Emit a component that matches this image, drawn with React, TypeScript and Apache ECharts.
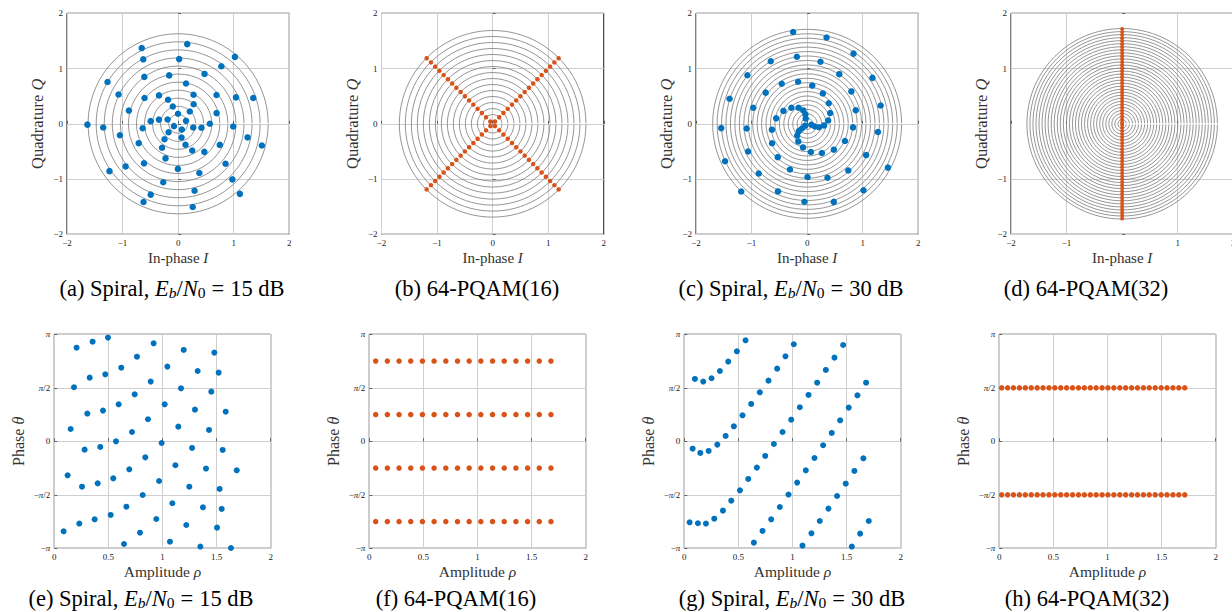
import React, { useEffect, useRef } from "react";
import * as echarts from "echarts";

const BLUE = "#0072BD";
const ORANGE = "#D95319";
const FONT = "'Liberation Serif', 'Times New Roman', serif";

// Spiral, Eb/N0 = 15 dB : amplitude rho and phase theta (in units of pi)
const spiral15Rho = [
  0.206, 0.354, 0.496, 0.918, 1.196, 1.479, 0.764, 1.045, 1.325, 1.519, 0.619, 0.891, 0.182, 0.471, 0.327, 1.171,
  1.451, 0.743, 1.02, 1.3, 1.584, 0.595, 0.45, 0.305, 0.151, 1.146, 1.43, 0.866, 0.718, 0.57, 0.992, 0.425,
  0.28, 1.273, 1.556, 0.841, 1.119, 1.402, 1.686, 0.693, 0.123, 0.968, 0.545, 0.401, 0.256, 1.248, 1.528, 0.817,
  1.091, 1.374, 1.547, 0.666, 0.521, 0.373, 0.231, 0.943, 1.22, 1.504, 0.792, 0.086, 1.069, 0.644, 1.35, 1.633,
];
const spiral15PhasePi = [
  0.875, 0.931, 0.969, 0.916, 0.854, 0.829, 0.791, 0.698, 0.657, 0.642, 0.688, 0.558, 0.505, 0.626, 0.595, 0.495,
  0.464, 0.439, 0.346, 0.296, 0.277, 0.346, 0.287, 0.259, 0.115, 0.137, 0.106, 0.206, 0.087, 0.0, -0.016, -0.053,
  -0.078, -0.062, -0.081, -0.15, -0.224, -0.255, -0.271, -0.262, -0.318, -0.371, -0.346, -0.393, -0.424, -0.424, -0.445, -0.502,
  -0.579, -0.617, -0.632, -0.611, -0.688, -0.729, -0.769, -0.726, -0.782, -0.807, -0.854, -0.841, -0.938, -0.96, -0.984, -0.997,
];

// Spiral, Eb/N0 = 30 dB
const spiral30Rho = [
  0.098, 0.175, 0.252, 0.329, 0.406, 0.486, 0.566,
  0.077, 0.148, 0.225, 0.305, 0.382, 0.458, 0.538, 0.618, 0.698, 0.778, 0.858, 0.935, 1.012,
  0.049, 0.126, 0.2, 0.277, 0.357, 0.434, 0.514, 0.591, 0.671, 0.748, 0.828, 0.908, 0.988, 1.068, 1.148, 1.228, 1.308, 1.388, 1.468,
  0.643, 0.723, 0.803, 0.883, 0.963, 1.043, 1.123, 1.203, 1.283, 1.363, 1.44, 1.52, 1.6, 1.68,
  1.092, 1.175, 1.252, 1.332, 1.412, 1.492, 1.572, 1.655,
  1.548, 1.625, 1.705,
];
const spiral30PhasePi = [
  0.583, 0.558, 0.589, 0.657, 0.745, 0.841, 0.944,
  -0.069, -0.109, -0.09, -0.031, 0.05, 0.14, 0.243, 0.349, 0.458, 0.567, 0.679, 0.794, 0.907,
  -0.757, -0.766, -0.769, -0.723, -0.648, -0.555, -0.458, -0.352, -0.246, -0.137, -0.025, 0.087, 0.202, 0.318, 0.433, 0.548, 0.667, 0.782, 0.9,
  -0.947, -0.838, -0.729, -0.614, -0.498, -0.386, -0.271, -0.156, -0.037, 0.078, 0.196, 0.315, 0.43, 0.548,
  -0.975, -0.86, -0.745, -0.629, -0.511, -0.396, -0.277, -0.159,
  -0.984, -0.863, -0.745,
];

// 64-PQAM(16): 16 amplitudes x 4 phases
const pqam16Amplitudes = [
  0.059, 0.167, 0.275, 0.383, 0.491, 0.599, 0.707, 0.815, 0.923, 1.031, 1.139, 1.247, 1.355, 1.463, 1.571, 1.679,
];
const pqam16PhasesPi = [0.75, 0.25, -0.25, -0.75];

// 64-PQAM(32): 32 amplitudes x 2 phases
const pqam32Amplitudes = [
  0.022, 0.077, 0.131, 0.186, 0.24, 0.295, 0.35, 0.404, 0.459, 0.513, 0.568, 0.622, 0.677, 0.732, 0.786, 0.841,
  0.895, 0.95, 1.004, 1.059, 1.114, 1.168, 1.223, 1.277, 1.332, 1.386, 1.441, 1.496, 1.55, 1.605, 1.659, 1.714,
];
const pqam32PhasesPi = [0.5, -0.5];

// reference rings (amplitude levels) drawn in the I/Q panels
const ringsSpiral15 = [0.17, 0.315, 0.46, 0.605, 0.75, 0.895, 1.04, 1.185, 1.33, 1.475, 1.62];
const ringsSpiral30 = [
  0.1, 0.18, 0.26, 0.34, 0.42, 0.5, 0.58, 0.66, 0.74, 0.82, 0.9, 0.98, 1.06, 1.14, 1.22, 1.3, 1.38, 1.46, 1.54, 1.62, 1.7,
];

const iqTicksFull = [-2, -1, 0, 1, 2];
const iqTicksNoZero = [-2, -1, 1, 2];
const phaseTickLabels: Record<string, string> = {
  "-1": "\u2212{p|\u03c0}",
  "-0.5": "\u2212{p|\u03c0}/2",
  "0": "0",
  "0.5": "{p|\u03c0}/2",
  "1": "{p|\u03c0}",
};

const captions = [
  "(a) Spiral, {it|E}{subi|b}/{it|N}{sub|0}{eq|=}15 dB",
  "(b) 64-PQAM(16)",
  "(c) Spiral, {it|E}{subi|b}/{it|N}{sub|0}{eq|=}30 dB",
  "(d) 64-PQAM(32)",
  "(e) Spiral, {it|E}{subi|b}/{it|N}{sub|0}{eq|=}15 dB",
  "(f) 64-PQAM(16)",
  "(g) Spiral, {it|E}{subi|b}/{it|N}{sub|0}{eq|=}30 dB",
  "(h) 64-PQAM(32)",
];
const captionX = [172, 477, 791, 1086, 141, 456, 792, 1087];
const captionY = [288, 288, 288, 288, 598, 598, 598, 598];

const topLefts = [67, 381.5, 696, 1011];
const bottomLefts = [54.3, 369.3, 684.3, 999.3];

function polarPairs(rho: number[], phasePi: number[]) {
  return rho.map((r, i) => [r, phasePi[i]]);
}
function gridPairs(amps: number[], phases: number[]) {
  const out: number[][] = [];
  phases.forEach((p) => amps.forEach((a) => out.push([a, p])));
  return out;
}
function toIQ(pairs: number[][]) {
  return pairs.map(([r, p]) => [r * Math.cos(p * Math.PI), r * Math.sin(p * Math.PI)]);
}

const minusFmt = (v: number) => String(v).replace("-", "\u2212");

export default function App() {
  const ref = useRef<HTMLDivElement>(null);
  useEffect(() => {
    if (!ref.current) return;
    const chart = echarts.init(ref.current, undefined, { renderer: "svg" });

    const labelColor = "#222";
    const nameColor = "#333";
    const gridColor = "#cfcfcf";
    const tickStyle = { show: true, inside: true, length: 3, lineStyle: { color: "#444", width: 0.8 } };

    const grids: any[] = [];
    const xAxes: any[] = [];
    const yAxes: any[] = [];
    const series: any[] = [];

    const nameStyle = (size: number) => ({
      fontFamily: FONT,
      fontSize: size,
      color: nameColor,
      rich: { i: { fontFamily: FONT, fontSize: size, fontStyle: "italic", color: nameColor } },
    });

    // top row: I/Q panels
    topLefts.forEach((left, k) => {
      grids.push({
        left, top: 13.3, width: 222.3, height: 221,
        show: true, borderColor: "#000", borderWidth: 1, backgroundColor: "transparent",
        outerBoundsMode: "none", containLabel: false,
      });
      const ticks = k === 3 ? iqTicksNoZero : iqTicksFull;
      const common = {
        gridIndex: k, type: "value", min: -2, max: 2, interval: 1,
        axisLine: { show: false },
        axisTick: { ...tickStyle, customValues: ticks },
        splitLine: { show: true, lineStyle: { color: gridColor, width: 1 } },
        nameLocation: "middle",
        nameMoveOverlap: false,
      };
      xAxes.push({
        ...common,
        axisLabel: { customValues: ticks, fontFamily: FONT, fontSize: 9, color: labelColor, margin: 4, formatter: minusFmt },
        name: "In-phase {i|I}", nameGap: 16, nameTextStyle: nameStyle(15),
      });
      yAxes.push({
        ...common,
        axisLabel: { customValues: ticks, fontFamily: FONT, fontSize: 9, color: labelColor, margin: 4, formatter: minusFmt },
        name: "Quadrature {i|Q}", nameGap: 21, nameTextStyle: nameStyle(16.5),
      });
    });

    // bottom row: amplitude/phase panels
    bottomLefts.forEach((left, k) => {
      const gi = k + 4;
      grids.push({
        left, top: 334.3, width: 216.4, height: 214,
        show: true, borderColor: "#000", borderWidth: 1, backgroundColor: "transparent",
        outerBoundsMode: "none", containLabel: false,
      });
      xAxes.push({
        gridIndex: gi, type: "value", min: 0, max: 2, interval: 0.5,
        axisLine: { show: false }, axisTick: tickStyle,
        splitLine: { show: true, lineStyle: { color: gridColor, width: 1 } },
        axisLabel: { fontFamily: FONT, fontSize: 9, color: labelColor, margin: 4 },
        name: "Amplitude {i|\u03c1}", nameLocation: "middle", nameGap: 15, nameMoveOverlap: false,
        nameTextStyle: nameStyle(15.5),
      });
      yAxes.push({
        gridIndex: gi, type: "value", min: -1, max: 1, interval: 0.5,
        axisLine: { show: false }, axisTick: tickStyle,
        splitLine: { show: true, lineStyle: { color: gridColor, width: 1 } },
        axisLabel: {
          fontFamily: FONT, fontSize: 9, color: labelColor, margin: 4,
          formatter: (v: number) => phaseTickLabels[String(Math.round(v * 2) / 2)] ?? String(v),
          rich: { p: { fontFamily: FONT, fontSize: 9, fontStyle: "italic", color: labelColor } },
        },
        name: "Phase {i|\u03b8}", nameLocation: "middle", nameGap: 28, nameMoveOverlap: false,
        nameTextStyle: nameStyle(16),
      });
    });

    const ringSeries = (idx: number, radii: number[]) => ({
      type: "custom",
      xAxisIndex: idx, yAxisIndex: idx,
      silent: true, z: 1,
      data: radii.map((r) => [r, 0]),
      renderItem: (_p: any, api: any) => {
        const r = api.value(0);
        const c = api.coord([0, 0]);
        const e = api.coord([r, 0]);
        const rp = e[0] - c[0];
        const gap = 0.6 / rp;
        return {
          type: "arc",
          shape: { cx: c[0], cy: c[1], r: rp, startAngle: gap, endAngle: Math.PI * 2 - gap, clockwise: true },
          style: { stroke: "#7a7a7a", lineWidth: 0.8, fill: "none" },
        };
      },
    });
    const scatter = (idx: number, data: number[][], color: string, size: number) => ({
      type: "scatter",
      xAxisIndex: idx, yAxisIndex: idx, z: 3,
      data, symbolSize: size, itemStyle: { color, opacity: 1 },
      silent: true,
    });

    const s15 = polarPairs(spiral15Rho, spiral15PhasePi);
    const s30 = polarPairs(spiral30Rho, spiral30PhasePi);
    const p16 = gridPairs(pqam16Amplitudes, pqam16PhasesPi);
    const p32 = gridPairs(pqam32Amplitudes, pqam32PhasesPi);

    series.push(ringSeries(0, ringsSpiral15), scatter(0, toIQ(s15), BLUE, 6.5));
    series.push(ringSeries(1, pqam16Amplitudes), scatter(1, toIQ(p16), ORANGE, 4.5));
    series.push(ringSeries(2, ringsSpiral30), scatter(2, toIQ(s30), BLUE, 6.5));
    series.push(ringSeries(3, pqam32Amplitudes), scatter(3, toIQ(p32), ORANGE, 4));
    series.push(scatter(4, s15, BLUE, 6));
    series.push(scatter(5, p16, ORANGE, 5.5));
    series.push(scatter(6, s30, BLUE, 6));
    series.push(scatter(7, p32, ORANGE, 5.5));

    const graphic = captions.map((text, i) => ({
      type: "text",
      x: captionX[i],
      y: captionY[i],
      style: {
        text,
        fontFamily: FONT,
        fontSize: 22.5,
        lineHeight: 24,
        fill: "#000",
        align: "center",
        verticalAlign: "middle",
        rich: {
          it: { fontFamily: FONT, fontSize: 22.5, lineHeight: 24, fontStyle: "italic", fill: "#000" },
          eq: { fontFamily: FONT, fontSize: 22.5, lineHeight: 24, fill: "#000", padding: [0, 6, 0, 6] },
          subi: { fontFamily: FONT, fontSize: 15.5, lineHeight: 13, fontStyle: "italic", verticalAlign: "bottom", fill: "#000" },
          sub: { fontFamily: FONT, fontSize: 15.5, lineHeight: 13, verticalAlign: "bottom", fill: "#000" },
        },
      },
    }));

    chart.setOption({
      animation: false,
      backgroundColor: "#fff",
      grid: grids,
      xAxis: xAxes,
      yAxis: yAxes,
      series,
      graphic,
    });
    return () => chart.dispose();
  }, []);

  return (
    <div
      ref={ref}
      style={{ position: "fixed", left: 0, top: 0, width: 1232, height: 612 }}
    />
  );
}
